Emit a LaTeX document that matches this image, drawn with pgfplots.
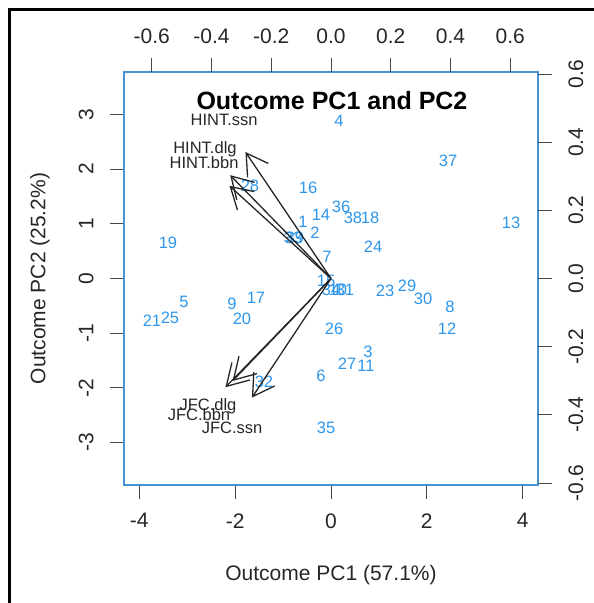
\documentclass[border=0pt]{standalone}
\usepackage{pgfplots}
\pgfplotsset{compat=1.18}
\usepackage{pgfplotstable}
\usepackage{fontspec}
\setmainfont{Liberation Sans}
\usetikzlibrary{arrows.meta}
\definecolor{ptblue}{RGB}{45,150,235}
\definecolor{boxblue}{RGB}{70,145,210}
\definecolor{tickgray}{RGB}{70,70,70}

\pgfplotstableread{
x y lab
-0.585 1.042 1
-0.334 0.841 2
0.772 -1.335 3
0.167 2.888 4
-3.069 -0.420 5
-0.209 -1.773 6
-0.084 0.402 7
2.484 -0.512 8
-2.067 -0.457 9
0.146 -0.201 10
0.731 -1.590 11
2.422 -0.914 12
3.758 1.024 13
-0.209 1.170 14
-0.104 -0.037 15
-0.480 1.664 16
-1.566 -0.347 17
0.814 1.115 18
-3.403 0.658 19
-1.858 -0.731 20
-3.737 -0.768 21
1.127 -0.219 23
0.877 0.585 24
-3.361 -0.713 25
0.063 -0.914 26
0.334 -1.554 27
-1.691 1.700 28
1.587 -0.128 29
1.921 -0.366 30
0.292 -0.201 31
-1.399 -1.883 32
-0.793 0.750 33
0.000 -0.201 34
-0.104 -2.724 35
0.209 1.316 36
2.443 2.157 37
0.459 1.115 38
-0.752 0.750 39
}\scores

\pgfplotstableread{
x y lab
-0.358 0.464 HINT.ssn
-0.422 0.379 HINT.dlg
-0.425 0.340 HINT.bbn
-0.412 -0.376 JFC.dlg
-0.442 -0.399 JFC.bbn
-0.331 -0.437 JFC.ssn
}\loadings

\pgfplotsset{
  commonaxis/.style={
    at={(124pt,118pt)}, anchor=south west,
    scale only axis, width=414pt, height=413pt,
    tick align=outside, major tick length=14pt,
    tick style={tickgray, line width=0.9pt},
    ticklabel style={font=\fontsize{21}{21}\selectfont, text=black!85},
    /pgf/number format/assume math mode=true,
    xticklabel shift=11pt, yticklabel shift=13pt,
  },
}

\begin{document}
\begin{tikzpicture}
\path[use as bounding box] (0pt,0pt) rectangle (594pt,603pt);
\draw[line width=3pt] (9.5pt,0pt) -- (9.5pt,593.5pt) -- (594pt,593.5pt);
\begin{axis}[
  commonaxis,
  xmin=-4.32, xmax=4.32, ymin=-3.775, ymax=3.775,
  axis line style={draw=boxblue, line width=1.6pt},
  xtick={-4,-2,0,2,4}, ytick={-3,-2,-1,0,1,2,3},
  tick pos=left,
  yticklabel style={rotate=90, anchor=south},
  xlabel={Outcome PC1 (57.1\%)}, ylabel={Outcome PC2 (25.2\%)},
  xlabel style={at={(axis description cs:0.5,-0.218)}, anchor=center, font=\fontsize{21}{21}\selectfont, text=black!85},
  ylabel style={at={(axis description cs:-0.203,0.5)}, anchor=center, font=\fontsize{21}{21}\selectfont, text=black!85},
]
\addplot[only marks, mark=*, mark size=0pt, mark options={draw=none, fill=none},
  nodes near coords, point meta=explicit symbolic,
  every node near coord/.append style={anchor=center, inner sep=0pt, text=ptblue, font=\fontsize{16.5}{16.5}\selectfont}]
  table[x=x, y=y, meta=lab]{\scores};
\node[font=\bfseries\fontsize{25}{25}\selectfont, text=black] at (axis cs:0.02,3.256) {Outcome PC1 and PC2};
\end{axis}
\begin{axis}[
  commonaxis,
  xmin=-0.693, xmax=0.693, ymin=-0.606, ymax=0.606,
  axis line style={draw=none},
  xtick={-0.6,-0.4,-0.2,0,0.2,0.4,0.6}, ytick={-0.6,-0.4,-0.2,0,0.2,0.4,0.6},
  tick pos=right,
  /pgf/number format/fixed, /pgf/number format/fixed zerofill, /pgf/number format/precision=1,
  yticklabel style={rotate=90, anchor=north},
]
\addplot[draw=black!85, line width=1.3pt, -{Straight Barb[length=21pt, width=25pt]}] coordinates {(0,0) (-0.2864,0.3712)};
\addplot[draw=black!85, line width=1.3pt, -{Straight Barb[length=21pt, width=25pt]}] coordinates {(0,0) (-0.3376,0.3032)};
\addplot[draw=black!85, line width=1.3pt, -{Straight Barb[length=21pt, width=25pt]}] coordinates {(0,0) (-0.3400,0.2720)};
\addplot[draw=black!85, line width=1.3pt, -{Straight Barb[length=21pt, width=25pt]}] coordinates {(0,0) (-0.3296,-0.3008)};
\addplot[draw=black!85, line width=1.3pt, -{Straight Barb[length=21pt, width=25pt]}] coordinates {(0,0) (-0.3536,-0.3192)};
\addplot[draw=black!85, line width=1.3pt, -{Straight Barb[length=21pt, width=25pt]}] coordinates {(0,0) (-0.2648,-0.3496)};
\addplot[only marks, mark=*, mark size=0pt, mark options={draw=none, fill=none},
  nodes near coords, point meta=explicit symbolic,
  every node near coord/.append style={anchor=center, inner sep=0pt, text=black!85, font=\fontsize{16.5}{16.5}\selectfont}]
  table[x=x, y=y, meta=lab]{\loadings};
\end{axis}
\end{tikzpicture}
\end{document}
